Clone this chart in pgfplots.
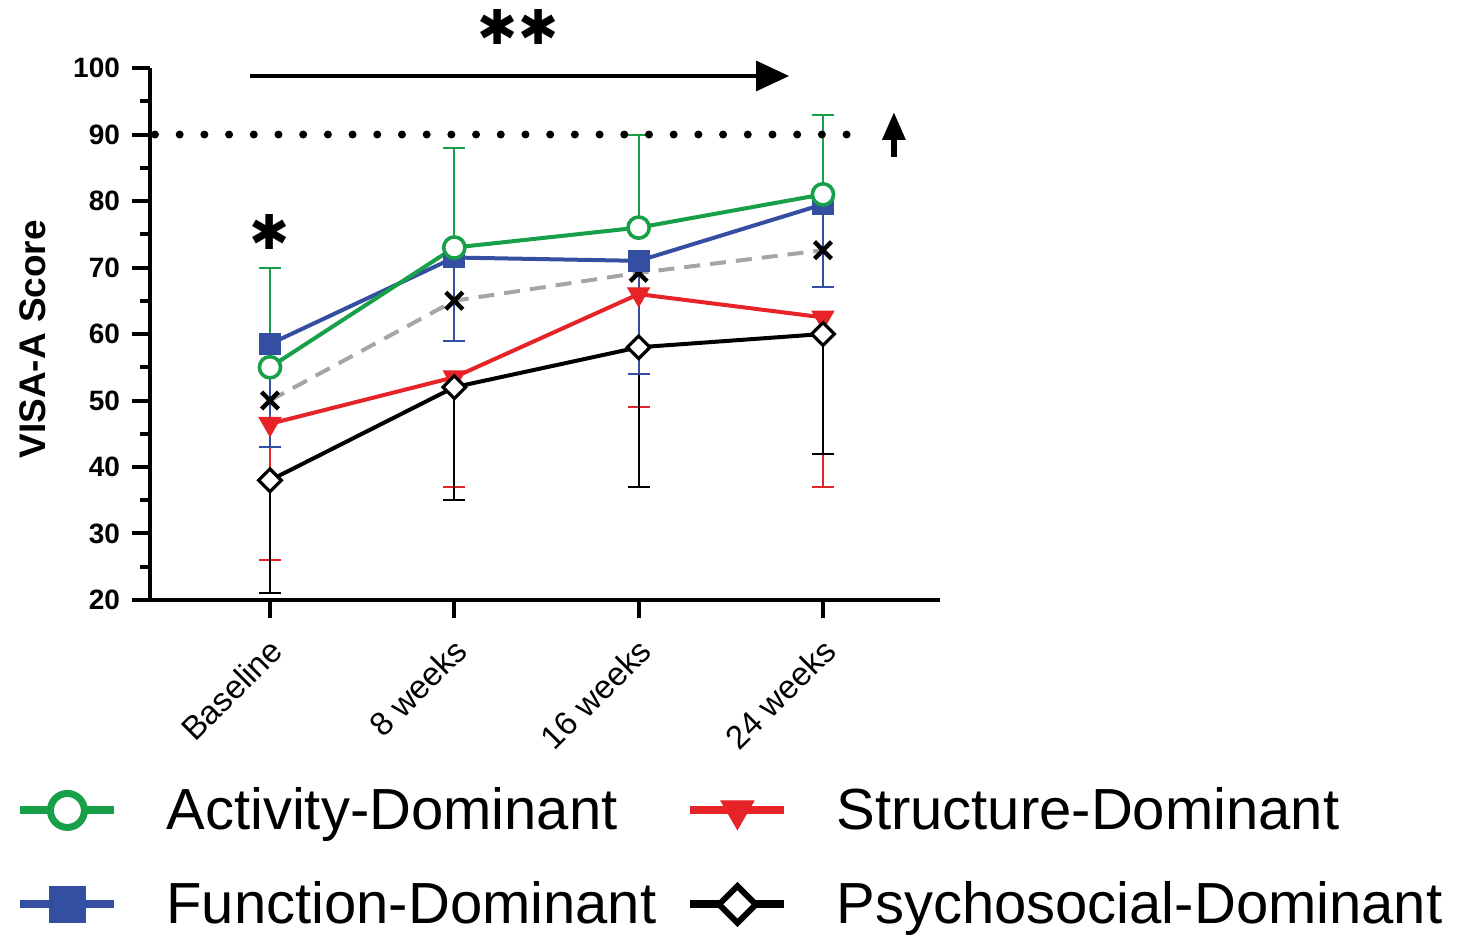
\documentclass[border=0pt]{standalone}
\usepackage{pgfplots}
\pgfplotsset{compat=1.18}
\usepackage{fontspec}
\setmainfont{Liberation Sans}
\newfontfamily\symfont{DejaVu Sans}
\usetikzlibrary{arrows.meta}
\definecolor{cgreen}{RGB}{24,160,72}
\definecolor{cblue}{RGB}{52,78,161}
\definecolor{cred}{RGB}{230,36,40}
\definecolor{cgray}{RGB}{165,165,165}
\begin{document}
\begin{tikzpicture}
\path[use as bounding box] (-75pt,-167.5pt) rectangle (656.5pt,300pt);
\begin{axis}[
  at={(0,0)}, anchor=south west,
  scale only axis, width=395pt, height=266pt,
  xmin=-0.651, xmax=3.635, ymin=20, ymax=100,
  axis x line*=bottom, axis y line*=left,
  axis line style={line width=2pt},
  clip=false,
  xtick={0,1,2,3}, xticklabels={Baseline,8 weeks,16 weeks,24 weeks},
  ytick={20,30,...,100}, minor ytick={25,35,...,95},
  tick align=outside, major tick length=9pt, minor tick length=5pt,
  every tick/.style={line width=2pt, black},
  minor tick style={line width=2pt, black},
  /pgf/number format/assume math mode=true,
  x tick label style={xshift=-1pt, yshift=-7.5pt, rotate=45, anchor=north east, font=\fontsize{16.5}{18}\selectfont, inner sep=1pt},
  y tick label style={font=\bfseries\fontsize{14}{16}\selectfont, xshift=-2.5pt},
  ylabel={VISA-A Score},
  ylabel style={font=\bfseries\fontsize{18.5}{20}\selectfont, at={(axis description cs:-0.148,0.49)}, anchor=center},
  legend image code/.code={\draw[#1, mark repeat=2, mark phase=2] plot coordinates {(0pt,0pt) (23.5pt,0pt) (47pt,0pt)};},
  legend columns=2,
  legend cell align=left,
  legend style={at={(axis description cs:-0.1772,-0.345)}, anchor=north west, draw=none, fill=none,
    font=\fontsize{29}{34}\selectfont, nodes={inner sep=0pt}, row sep=24.5pt,
    /tikz/every odd column/.append style={column sep=24pt},
    /tikz/every even column/.append style={column sep=15pt}},
]
% mean (gray dashed)
\addplot[forget plot, cgray, line width=2pt, dash pattern=on 8pt off 5pt,
  mark=x, mark size=6pt, mark options={solid, black, line width=2.2pt}]
  table[x=x,y=y] {
x y
0 50
1 65
2 69.2
3 72.6
};
% Structure (red)
\addplot[forget plot, cred, line width=2pt, mark=triangle*, mark size=6.3pt,
  mark options={rotate=180, fill=cred, line width=0.5pt},
  error bars/.cd, y dir=minus, y explicit,
  error bar style={line width=1pt, cred},
  error mark options={rotate=90, mark size=5.5pt, line width=1pt, cred}]
  table[x=x,y=y,y error=e] {
x y e
0 46.5 20.5
1 53.5 16.5
2 66 17
3 62.5 25.5
};
% Psychosocial (black)
\addplot[forget plot, black, line width=2pt, mark=square*, mark size=4pt,
  mark options={rotate=45, fill=white, line width=1.6pt},
  error bars/.cd, y dir=minus, y explicit,
  error bar style={line width=1pt, black},
  error mark options={rotate=90, mark size=5.5pt, line width=1pt, black}]
  table[x=x,y=y,y error=e] {
x y e
0 38 17
1 52 17
2 58 21
3 60 18
};
% Function (blue)
\addplot[forget plot, cblue, line width=2pt, mark=square*, mark size=5.2pt,
  mark options={fill=cblue, line width=0.5pt},
  error bars/.cd, y dir=minus, y explicit,
  error bar style={line width=1pt, cblue},
  error mark options={rotate=90, mark size=5.5pt, line width=1pt, cblue}]
  table[x=x,y=y,y error=e] {
x y e
0 58.5 15.5
1 71.5 12.5
2 71 17
3 79.5 12.5
};
% Activity (green)
\addplot[forget plot, cgreen, line width=2pt, mark=*, mark size=5.3pt,
  mark options={fill=white, line width=1.8pt},
  error bars/.cd, y dir=plus, y explicit,
  error bar style={line width=1pt, cgreen},
  error mark options={rotate=90, mark size=5.5pt, line width=1pt, cgreen}]
  table[x=x,y=y,y error=e] {
x y e
0 55 15
1 73 15
2 76 14
3 81 12
};
% legend
\addlegendimage{cgreen, line width=4pt, mark=*, mark size=8.5pt, mark options={fill=white, line width=3.5pt}}
\addlegendentry{Activity-Dominant}
\addlegendimage{cred, line width=4pt, mark=triangle*, mark size=9.5pt, mark options={rotate=180, fill=cred, line width=0.5pt}}
\addlegendentry{Structure-Dominant}
\addlegendimage{cblue, line width=4pt, mark=square*, mark size=9pt, mark options={fill=cblue, line width=0.5pt}}
\addlegendentry{Function-Dominant}
\addlegendimage{black, line width=4pt, mark=square*, mark size=6.5pt, mark options={rotate=45, fill=white, line width=3pt}}
\addlegendentry{Psychosocial-Dominant}
% annotations
\draw[line width=4pt, line cap=round, dash pattern=on 0pt off 12.35pt] (axis cs:-0.624,90) -- (axis cs:3.16,90);
\draw[line width=1.6pt, -{Triangle[length=16.5pt,width=15pt]}] (axis cs:-0.1085,98.8) -- (axis cs:2.816,98.8);
\draw[line width=3pt, -{Triangle[length=14pt,width=11pt]}] (axis cs:3.385,86.6) -- (axis cs:3.385,93.4);
\node[font=\symfont\fontsize{24}{26}\selectfont, inner sep=0pt] at (axis cs:1.237,106.1) {✱};
\node[font=\symfont\fontsize{24}{26}\selectfont, inner sep=0pt] at (axis cs:1.459,106.1) {✱};
\node[font=\symfont\fontsize{24}{26}\selectfont, inner sep=0pt] at (axis cs:0,75.3) {✱};
\end{axis}
\end{tikzpicture}
\end{document}
